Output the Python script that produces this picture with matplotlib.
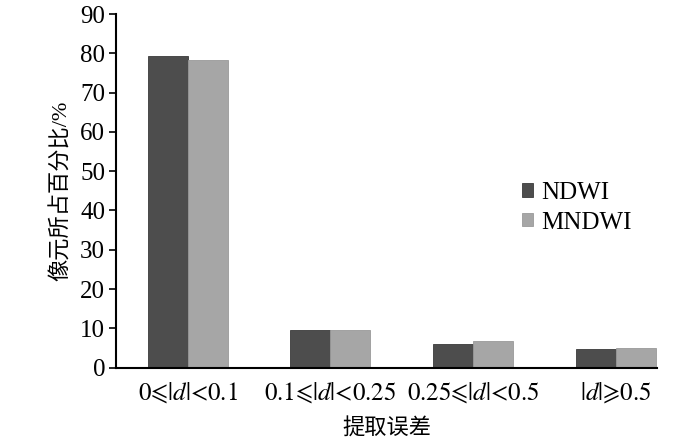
import matplotlib
matplotlib.use("Agg")
import matplotlib.pyplot as plt
import numpy as np

plt.rcParams['font.family'] = ['Liberation Serif', 'Noto Sans CJK SC', 'DejaVu Sans']
plt.rcParams['mathtext.fontset'] = 'stix'

_n = r'\hspace{-0.2}'
categories = [rf'$0{_n}\leqslant{_n}|d|{_n}<{_n}0.1$',
              rf'$0.1{_n}\leqslant{_n}|d|{_n}<{_n}0.25$',
              rf'$0.25{_n}\leqslant{_n}|d|{_n}<{_n}0.5$',
              rf'$|d|{_n}\geqslant{_n}0.5$']
ndwi = [79.3, 9.6, 5.9, 4.6]
mndwi = [78.3, 9.6, 6.7, 5.1]
series_names = ['NDWI', 'MNDWI']
yticks = [0, 10, 20, 30, 40, 50, 60, 70, 80, 90]

fig = plt.figure(figsize=(7, 4.45), dpi=100)
ax = fig.add_axes([0.166, 0.174, 0.773, 0.7945])

x = np.arange(len(categories))
w = 0.28
ax.bar(x - w / 2, ndwi, w, color='#4d4d4d', edgecolor='#3a3a3a', linewidth=0.6, label=series_names[0])
ax.bar(x + w / 2, mndwi, w, color='#a6a6a6', edgecolor='#999999', linewidth=0.6, label=series_names[1])

ax.set_xlim(-0.5, 3.29)
ax.set_ylim(0, 90)
ax.set_yticks(yticks)
ax.set_xticks(x)
ax.set_xticklabels(categories, fontsize=18)
ax.tick_params(axis='y', labelsize=18, direction='out', length=5, width=1.2, pad=3)
ax.tick_params(axis='x', length=0, pad=9)
for s in ['top', 'right']:
    ax.spines[s].set_visible(False)
for s in ['left', 'bottom']:
    ax.spines[s].set_linewidth(1.5)

ax.set_ylabel('像元所占百分比/%', fontsize=16, labelpad=6)
ax.set_xlabel('提取误差', fontsize=16, labelpad=10)

ax.legend(loc='center left', bbox_to_anchor=(0.728, 0.533), bbox_transform=fig.transFigure,
          frameon=False, fontsize=18, handlelength=0.45, handleheight=0.45,
          handletextpad=0.3, labelspacing=0.3, borderpad=0)

fig.savefig('out.png', dpi=100)
